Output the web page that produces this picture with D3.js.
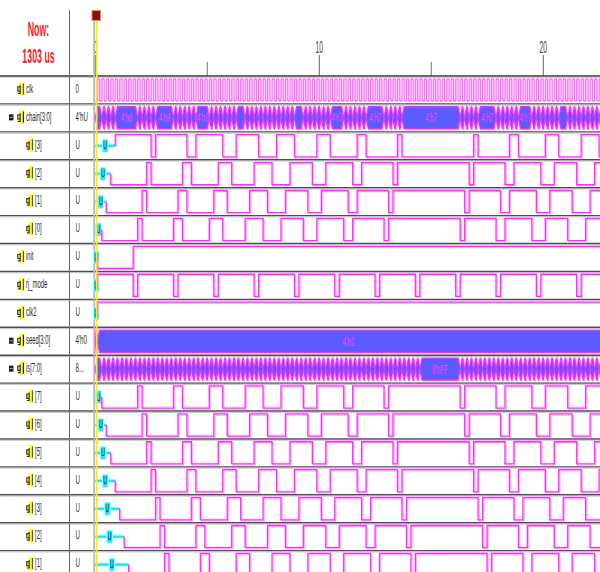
<!DOCTYPE html>
<html>
<head>
<meta charset="utf-8">
<script src="https://cdn.jsdelivr.net/npm/d3@7"></script>
<style>
  body { margin: 0; background: #fff; }
  svg { display: block; }
</style>
</head>
<body>
<div id="chart"></div>
<script>
// ISim-style waveform window: registers update once per clk cycle.
// Transitions are stored as clock-cycle indices, times are in us.

const nowText = "1303 us";
const cursorTime = 0.04;
const majorTicks = [0, 10, 20];
const minorTicks = [5, 15];

const clkPeriod = 0.2;      // us
const clkFirstRise = 0.09;  // us
const cycleUs = 0.2;        // one register update per clk period
const cycleStart = 0.09;    // time of cycle 0

const rowNames  = ["clk", "chain[3:0]", "[3]", "[2]", "[1]", "[0]", "init", "rj_mode", "clk2",
                   "seed[3:0]", "is[7:0]", "[7]", "[6]", "[5]", "[4]", "[3]", "[2]", "[1]", "[0]"];
const rowValues = ["0", "4'hU", "U", "U", "U", "U", "U", "U", "U",
                   "4'h0", "8...", "U", "U", "U", "U", "U", "U", "U", "U"];
const rowKinds  = ["clock", "bus", "child", "child", "child", "child", "bit", "bit", "bit",
                   "bus", "bus", "child", "child", "child", "child", "child", "child", "child", "child"];

// toggle cycles of each single-bit signal
const chain3 = [12,13,20,22,28,31,36,40,44,49,52,58,60,67,68,84,85,92,94,100,103,108,112];
const chain2 = [11,12,19,21,27,30,35,39,43,48,51,57,59,66,67,83,84,91,93,99,102,107,111,115];
const chain1 = [10,11,18,20,26,29,34,38,42,47,50,56,58,65,66,82,83,90,92,98,101,106,110,114];
const chain0 = [9,10,17,19,25,28,33,37,41,46,49,55,57,64,65,81,82,89,91,97,100,105,109,113];
const initSig = [8];
const rjMode = [8,9,17,18,26,27,35,36,44,45,53,54,62,63,71,72,80,81,89,90,98,99,107,108];
const clk2Sig = [];
const is7 = [9,10,17,19,25,28,33,37,41,46,49,55,57,64,65,81,82,89,91,97,100,105,109,113];
const is6 = [10,11,18,20,26,29,34,38,42,47,50,56,58,65,66,82,83,90,92,98,101,106,110,114];
const is5 = [11,12,19,21,27,30,35,39,43,48,51,57,59,66,67,83,84,91,93,99,102,107,111,115];
const is4 = [12,13,20,22,28,31,36,40,44,49,52,58,60,67,68,84,85,92,94,100,103,108,112];
const is3 = [13,14,21,23,29,32,37,41,45,50,53,59,61,68,69,85,86,93,95,101,104,109,113];
const is2 = [14,15,22,24,30,33,38,42,46,51,54,60,62,69,70,86,87,94,96,102,105,110,114];
const is1 = [15,16,23,25,31,34,39,43,47,52,55,61,63,70,71,87,88,95,97,103,106,111,115];
const is0 = [16,17,24,26,32,35,40,44,48,53,56,62,64,71,72,88,89,96,98,104,107,112];

// cycle where each bit leaves 'U', and its first defined level
const bitToggles = [chain3, chain2, chain1, chain0, initSig, rjMode, clk2Sig, is7, is6, is5, is4, is3, is2, is1, is0];
const bitRows    = [2, 3, 4, 5, 6, 7, 8, 11, 12, 13, 14, 15, 16, 17, 18];
const bitUEnd    = [4, 3, 2, 1, 0, 0, 0, 1, 2, 3, 4, 5, 6, 7, 8];
const bitFirst   = [1, 0, 0, 0, 0, 1, 1, 0, 0, 0, 0, 0, 0, 0, 0];

const seedChanges = [0];
const seedLabels  = ["4'h0", "4'h1"];

// ---------------------------------------------------------------
const W = 600, H = 572;
const rowTop0 = 76, rowH = 27.92;
const x = d3.scaleLinear().domain([0, 20]).range([95.3, 543.3]);
const tEnd = x.invert(606);
const cyc = n => cycleStart + n * cycleUs;
const rowTop = i => rowTop0 + i * rowH;
const rowVisible = i => rowTop(i) < H;   // is[0] lies below the window

const MAG = "#ff2bff", PINK = "#ffb0ff", BLUE = "#5b5bff";

const svg = d3.select("#chart").append("svg")
    .attr("width", W).attr("height", H)
    .style("font-family", "'Liberation Sans', Arial, sans-serif");

// narrow, tall text like the scaled screenshot
function squeeze(g, str, px, py, size, sx, fill, anchor = "start", weight = "normal") {
    return g.append("text")
        .attr("transform", `translate(${px},${py}) scale(${sx},1)`)
        .attr("font-size", size)
        .attr("font-weight", weight)
        .attr("fill", fill)
        .attr("text-anchor", anchor)
        .text(str);
}

// header
squeeze(svg, "Now:", 38.5, 36, 21, 0.42, "#ff1a1a", "middle", "bold");
squeeze(svg, nowText, 38.5, 63, 21, 0.42, "#ff1a1a", "middle", "bold");

const axis = svg.append("g");
majorTicks.forEach(v => {
    axis.append("line").attr("x1", x(v)).attr("x2", x(v)).attr("y1", 55).attr("y2", 76)
        .attr("stroke", "#666").attr("stroke-width", 1);
    squeeze(axis, String(v), x(v), 53, 16, 0.42, "#444", "middle");
});
minorTicks.forEach(v => {
    axis.append("line").attr("x1", x(v)).attr("x2", x(v)).attr("y1", 62).attr("y2", 76)
        .attr("stroke", "#777").attr("stroke-width", 1);
});

// row separators
for (let i = 0; i < rowNames.length; i++) {
    if (!rowVisible(i)) continue;
    const y = rowTop(i);
    svg.append("line").attr("x1", 0).attr("x2", W).attr("y1", y).attr("y2", y)
        .attr("stroke", i === 0 ? "#333" : "#4f4f4f").attr("stroke-width", 1.4);
    svg.append("line").attr("x1", 0).attr("x2", W).attr("y1", y + 1.3).attr("y2", y + 1.3)
        .attr("stroke", "#b4b4b4").attr("stroke-width", 0.8);
}

// column dividers
svg.append("line").attr("x1", 69.5).attr("x2", 69.5).attr("y1", 10).attr("y2", H)
    .attr("stroke", "#6a6a6a").attr("stroke-width", 1);
svg.append("line").attr("x1", 94.2).attr("x2", 94.2).attr("y1", 21).attr("y2", H)
    .attr("stroke", "#b8b8b8").attr("stroke-width", 1.8);

// names + values
const names = svg.append("g");
rowNames.forEach((name, i) => {
    if (!rowVisible(i)) return;
    const mid = rowTop(i) + rowH / 2;
    const kind = rowKinds[i];
    const ix = kind === "child" ? 26 : 17;
    if (kind === "bus") {
        names.append("rect").attr("x", 9).attr("y", mid - 3.5).attr("width", 4.5).attr("height", 6)
            .attr("fill", "#1e1e1e");
        names.append("line").attr("x1", 9.8).attr("x2", 12.7).attr("y1", mid - 0.5).attr("y2", mid - 0.5)
            .attr("stroke", "#ddd").attr("stroke-width", 0.8);
    }
    // signal icon: yellow tag, hooked stem and bracket
    names.append("rect").attr("x", ix + 2.5).attr("y", mid - 7.5).attr("width", 5).attr("height", 13.5)
        .attr("fill", "#ffff30");
    names.append("path")
        .attr("d", `M${ix + 3.2},${mid - 3} h-2.4 v4.2 h2.4 v-5.8 M${ix + 3.2},${mid + 1.2} v2.2 h-2.4`)
        .attr("fill", "none").attr("stroke", "#3a3a10").attr("stroke-width", 1.2);
    names.append("line").attr("x1", ix + 6.4).attr("x2", ix + 6.4).attr("y1", mid - 6.5).attr("y2", mid + 4.5)
        .attr("stroke", kind === "bus" ? "#222" : "#555").attr("stroke-width", 1.2);
    squeeze(names, name, ix + 9, mid + 2.8, 12.5, 0.47, "#2a2a2a");
    squeeze(names, rowValues[i], 75.5, mid + 2.8, 13, 0.47, "#2a2a2a");
});

// waveform area
svg.append("clipPath").attr("id", "wclip")
    .append("rect").attr("x", 93).attr("y", 0).attr("width", W - 93).attr("height", H);
const waves = svg.append("g").attr("clip-path", "url(#wclip)");

const stepLine = d3.line().x(d => x(d.t)).y(d => d.y).curve(d3.curveStepAfter);

function drawTrace(g, pts, w = 1.3, off = 1.2) {
    g.append("path").attr("d", stepLine(pts)).attr("fill", "none")
        .attr("stroke", PINK).attr("stroke-width", w).attr("transform", `translate(${off},${off})`);
    g.append("path").attr("d", stepLine(pts)).attr("fill", "none")
        .attr("stroke", MAG).attr("stroke-width", w);
}

// clk
{
    const top = rowTop(0), hi = top + 2.8, lo = top + 25;
    const pts = [{ t: 0, y: lo }];
    let level = 0;
    d3.range(clkFirstRise, tEnd, clkPeriod / 2).forEach(t => {
        level = 1 - level;
        pts.push({ t, y: level ? hi : lo });
    });
    pts.push({ t: tEnd, y: level ? hi : lo });
    drawTrace(waves, pts, 0.75, 0.7);
}

// bit value at time t
function bitAt(k, t) {
    const tU = cyc(bitUEnd[k]);
    if (t < tU) return "U";
    const n = bitToggles[k].filter(c => cyc(c) <= t).length;
    return (bitFirst[k] + n) % 2;
}

// single-bit rows
bitToggles.forEach((toggles, k) => {
    const row = bitRows[k];
    if (!rowVisible(row)) return;
    const top = rowTop(row), hi = top + 2.8, lo = top + 25, mid = top + 14;
    const tU = cyc(bitUEnd[k]);
    const g = waves.append("g");

    // 'U' stretch
    g.append("line").attr("x1", x(0)).attr("x2", x(tU)).attr("y1", mid).attr("y2", mid)
        .attr("stroke", "#b0ffff").attr("stroke-width", 4);
    g.append("line").attr("x1", x(0)).attr("x2", x(tU)).attr("y1", mid).attr("y2", mid)
        .attr("stroke", "#18e2ff").attr("stroke-width", 2.2);
    const cx = x(tU / 2);
    g.append("rect").attr("x", cx - 2.8).attr("y", mid - 6.5).attr("width", 5.6).attr("height", 13)
        .attr("rx", 1).attr("fill", "#20e4ff").attr("stroke", "#a8ffff").attr("stroke-width", 1);
    squeeze(g, "U", cx, mid + 3.4, 11, 0.48, "#10183a", "middle");

    let level = bitFirst[k];
    const pts = [{ t: tU, y: mid }, { t: tU, y: level ? hi : lo }];
    toggles.forEach(c => {
        level = 1 - level;
        pts.push({ t: cyc(c), y: level ? hi : lo });
    });
    pts.push({ t: tEnd, y: level ? hi : lo });
    drawTrace(g, pts);
});

// bus rows
function drawBus(row, segs) {
    const top = rowTop(row), hi = top + 2.8, lo = top + 25, mid = top + 14;
    const g = waves.append("g");
    segs.forEach(s => {
        const x0 = x(s.t0), x1 = x(s.t1), w = x1 - x0;
        const sl = Math.min(2.2, w * 0.45);
        const poly = [[x0, mid], [x0 + sl, hi], [x1 - sl, hi], [x1, mid], [x1 - sl, lo], [x0 + sl, lo]];
        g.append("polygon").attr("points", poly.map(p => p.join(",")).join(" "))
            .attr("fill", "none").attr("stroke", PINK).attr("stroke-width", 1.2)
            .attr("transform", "translate(1,1)");
        g.append("polygon").attr("points", poly.map(p => p.join(",")).join(" "))
            .attr("fill", BLUE).attr("stroke", MAG).attr("stroke-width", 1.2);
        const vx0 = Math.max(x0, x(0)), vx1 = Math.min(x1, W);
        if (vx1 - vx0 >= 12) {
            squeeze(g, s.label, (vx0 + vx1) / 2, mid + 4.5, 13, 0.48, "#ff40ff", "middle");
        }
    });
}

// split a bus into stretches of constant bit pattern
function busSegments(members, fmt) {
    const times = new Set([0]);
    members.forEach(k => {
        times.add(cyc(bitUEnd[k]));
        bitToggles[k].forEach(c => times.add(cyc(c)));
    });
    const ts = Array.from(times).filter(t => t < tEnd).sort((a, b) => a - b);
    ts.push(tEnd);
    const segs = [];
    for (let i = 0; i < ts.length - 1; i++) {
        const tm = (ts[i] + ts[i + 1]) / 2;
        const bits = members.map(k => bitAt(k, tm));
        const key = bits.join("");
        const last = segs[segs.length - 1];
        if (last && last.key === key) last.t1 = ts[i + 1];
        else segs.push({ t0: ts[i], t1: ts[i + 1], key, label: fmt(bits) });
    }
    return segs;
}

function hexOf(bits) {
    let out = "";
    for (let i = 0; i < bits.length; i += 4) {
        const nib = bits.slice(i, i + 4);
        out += nib.includes("U") ? "U" : parseInt(nib.join(""), 2).toString(16).toUpperCase();
    }
    return `${bits.length}'h${out}`;
}

drawBus(1, busSegments([0, 1, 2, 3], hexOf));
drawBus(10, busSegments([7, 8, 9, 10, 11, 12, 13, 14], hexOf));

const seedTimes = [0, ...seedChanges.map(cyc), tEnd];
drawBus(9, seedLabels.map((label, i) => ({ t0: seedTimes[i], t1: seedTimes[i + 1], label })));

// cursor
svg.append("line").attr("x1", x(cursorTime) + 0.5).attr("x2", x(cursorTime) + 0.5).attr("y1", 21).attr("y2", H)
    .attr("stroke", "#ffee00").attr("stroke-width", 1.7);
svg.append("rect").attr("x", 92).attr("y", 10.5).attr("width", 8.5).attr("height", 10)
    .attr("fill", "#980a0a").attr("stroke", "#d8a040").attr("stroke-width", 1);
</script>
</body>
</html>
